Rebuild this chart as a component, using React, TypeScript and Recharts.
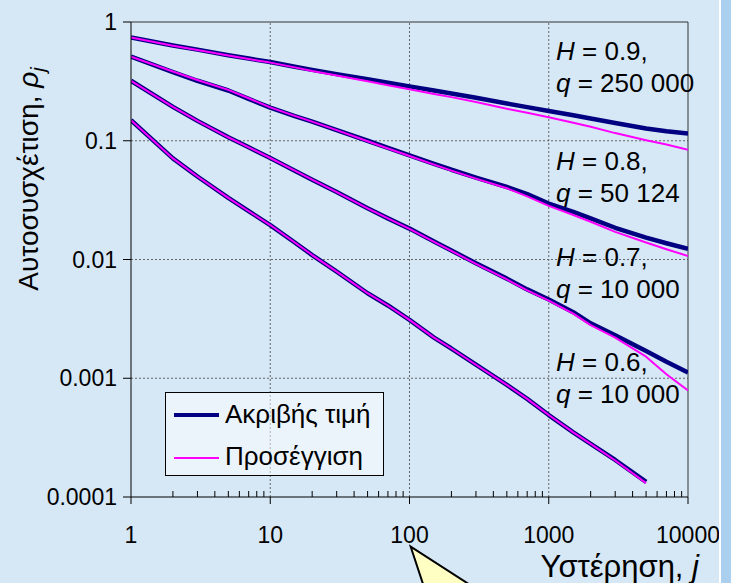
import React from "react"
import { LineChart, Line, XAxis, YAxis, ReferenceLine } from "recharts"

// lags (x) shared by all curves
const lags = [1, 2, 3, 5, 7, 10, 15, 20, 30, 50, 70, 100, 150, 200, 300, 500, 700, 1000, 1500, 2000, 3000, 5000, 7000, 10000]

// exact autocorrelation (dark) and approximation (magenta)
const exact09 = [0.74, 0.635, 0.585, 0.525, 0.492, 0.46, 0.42, 0.395, 0.364, 0.33, 0.308, 0.287, 0.265, 0.25, 0.23, 0.206, 0.192, 0.178, 0.164, 0.154, 0.141, 0.127, 0.12, 0.115]
const approx09 = [0.74, 0.632, 0.582, 0.522, 0.488, 0.455, 0.415, 0.386, 0.355, 0.317, 0.293, 0.271, 0.248, 0.233, 0.212, 0.186, 0.172, 0.158, 0.142, 0.131, 0.116, 0.101, 0.093, 0.084]
const exact08 = [0.51, 0.378, 0.32, 0.265, 0.225, 0.19, 0.161, 0.145, 0.123, 0.1, 0.087, 0.0754, 0.064, 0.057, 0.049, 0.0408, 0.0355, 0.0296, 0.0252, 0.0222, 0.0185, 0.0153, 0.0137, 0.0123]
const approx08 = [0.51, 0.383, 0.325, 0.268, 0.228, 0.191, 0.162, 0.145, 0.123, 0.099, 0.086, 0.0745, 0.063, 0.056, 0.048, 0.0398, 0.034, 0.0283, 0.0237, 0.0208, 0.0171, 0.0139, 0.0122, 0.0107]
const exact07 = [0.32, 0.193, 0.147, 0.107, 0.088, 0.0716, 0.056, 0.047, 0.037, 0.027, 0.0222, 0.0182, 0.0142, 0.0119, 0.0093, 0.0069, 0.0056, 0.0046, 0.0036, 0.0029, 0.0023, 0.0017, 0.00138, 0.00112]
const approx07 = [0.32, 0.193, 0.147, 0.107, 0.088, 0.0716, 0.056, 0.047, 0.037, 0.027, 0.0222, 0.0181, 0.0141, 0.0118, 0.0092, 0.0068, 0.0055, 0.0045, 0.0035, 0.0028, 0.0022, 0.00152, 0.00108, 0.00079]
const exact06 = [0.149, 0.071, 0.05, 0.033, 0.0255, 0.0195, 0.0139, 0.0109, 0.0079, 0.0052, 0.0041, 0.0031, 0.0022, 0.00178, 0.0013, 0.00088, 0.00067, 0.00049, 0.00035, 0.00028, 0.000205, 0.000134]
const approx06 = [0.149, 0.071, 0.05, 0.033, 0.0255, 0.0195, 0.0139, 0.0109, 0.0079, 0.0052, 0.0041, 0.0031, 0.0022, 0.00178, 0.0013, 0.00088, 0.00067, 0.00049, 0.00035, 0.00028, 0.000203, 0.000131]

const xMajor = [1, 10, 100, 1000, 10000]
const xMinor = [2, 3, 4, 5, 6, 7, 8, 9, 20, 30, 40, 50, 60, 70, 80, 90, 200, 300, 400, 500, 600, 700, 800, 900, 2000, 3000, 4000, 5000, 6000, 7000, 8000, 9000]
const yTicks = [0.0001, 0.001, 0.01, 0.1, 1]

const annotations = [
  { h: "0.9,", q: "250 000", y: 60 },
  { h: "0.8,", q: "50 124", y: 170 },
  { h: "0.7,", q: "10 000", y: 266 },
  { h: "0.6,", q: "10 000", y: 371 },
]

const FONT = "'Liberation Sans', Arial, sans-serif"
const BG = "#d6e8f6"
const NAVY = "#000080"
const PINK = "#ff00ff"

const toSeries = (vals: number[]) => vals.map((v, i) => ({ j: lags[i], v }))

const exactSeries = [exact09, exact08, exact07, exact06].map(toSeries)
const approxSeries = [approx09, approx08, approx07, approx06].map(toSeries)

function XTick(props: any) {
  const { x, y, payload } = props
  const v = payload.value
  const major = xMajor.includes(v)
  return (
    <g>
      <line x1={x} x2={x} y1={major ? y : y - 6} y2={major ? y + 7 : y} stroke="#000" />
      {major && (
        <text x={x} y={y + 46} textAnchor="middle" fontSize={23} fontFamily={FONT} fill="#000">
          {v}
        </text>
      )}
    </g>
  )
}

export default function App() {
  const grid = { stroke: "#666", strokeDasharray: "2 2", strokeWidth: 1 }
  return (
    <div style={{ position: "absolute", left: 0, top: 0, width: 731, height: 583, background: BG, overflow: "hidden" }}>
      <LineChart width={731} height={583} margin={{ top: 22, right: 43, bottom: 0, left: 0 }}>
        <XAxis
          dataKey="j"
          type="number"
          scale="log"
          domain={[1, 10000]}
          ticks={[...xMajor, ...xMinor].sort((a, b) => a - b)}
          interval={0}
          tickLine={false}
          tickSize={0}
          tickMargin={0}
          tick={<XTick />}
          height={86}
          stroke="#000"
          allowDataOverflow
        />
        <YAxis
          type="number"
          scale="log"
          domain={[0.0001, 1]}
          ticks={yTicks}
          interval={0}
          width={131}
          tickSize={8}
          tickMargin={6}
          tickFormatter={(v) => String(v)}
          tick={{ fill: "#000", fontSize: 23, fontFamily: FONT }}
          stroke="#000"
          allowDataOverflow
        />
        {[10, 100, 1000].map((x) => (
          <ReferenceLine key={"gx" + x} x={x} {...grid} />
        ))}
        {[0.1, 0.01, 0.001].map((y) => (
          <ReferenceLine key={"gy" + y} y={y} {...grid} />
        ))}
        <ReferenceLine x={10000} stroke="#333" />
        <ReferenceLine y={1} stroke="#333" />
        {exactSeries.map((d, i) => (
          <Line key={"e" + i} data={d} dataKey="v" type="linear" stroke={NAVY} strokeWidth={4.5} dot={false} isAnimationActive={false} strokeLinejoin="round" />
        ))}
        {approxSeries.map((d, i) => (
          <Line key={"a" + i} data={d} dataKey="v" type="linear" stroke={PINK} strokeWidth={2} dot={false} isAnimationActive={false} strokeLinejoin="round" />
        ))}
      </LineChart>
      <svg width={731} height={583} style={{ position: "absolute", left: 0, top: 0, pointerEvents: "none" }} fontFamily={FONT}>
        {annotations.map((a) => (
          <g key={a.h + a.q} fontSize={26} fill="#000">
            <text x={556} y={a.y}>
              <tspan fontStyle="italic">H</tspan> = {a.h}
            </text>
            <text x={556} y={a.y + 32}>
              <tspan fontStyle="italic">q</tspan> = {a.q}
            </text>
          </g>
        ))}
        <rect x={165.5} y={392.5} width={218} height={83} fill="rgba(255,255,255,0.5)" stroke="#000" />
        <line x1={174} x2={219} y1={415} y2={415} stroke={NAVY} strokeWidth={4} />
        <line x1={174} x2={219} y1={458} y2={458} stroke={PINK} strokeWidth={2} />
        <text x={225} y={423} fontSize={26}>Ακριβής τιμή</text>
        <text x={225} y={465} fontSize={26}>Προσέγγιση</text>
        <text x={38} y={179} fontSize={28} textAnchor="middle" transform="rotate(-90 38 179)">
          Αυτοσυσχέτιση, <tspan fontStyle="italic">ρ</tspan>
          <tspan fontStyle="italic" fontSize={20} dy={7}>j</tspan>
        </text>
        <text x={699} y={577} fontSize={31} textAnchor="end">
          Υστέρηση, <tspan fontStyle="italic">j</tspan>
        </text>
        <polygon points="410.7,546.7 425,590 478,590" fill="#ffffc4" stroke="#000" strokeWidth={2} strokeLinejoin="miter" />
        <rect x={719} y={0} width={2} height={583} fill="#fff" />
        <rect x={721} y={0} width={10} height={583} fill="#abcfee" />
      </svg>
    </div>
  )
}
